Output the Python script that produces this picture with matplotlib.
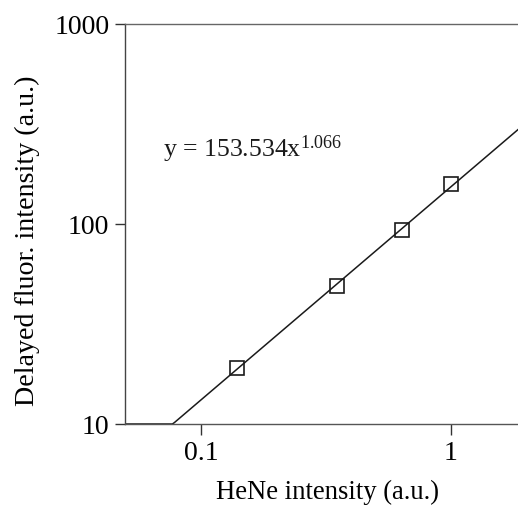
import numpy as np
import matplotlib
matplotlib.use("Agg")
import matplotlib.pyplot as plt

# Data
hene = [0.14, 0.35, 0.64, 1.0]
delayed = [19.1, 49.1, 93.3, 158.0]
fit_a = 153.534
fit_b = 1.066
x_ticks = [0.1, 1]
x_ticklabels = ["0.1", "1"]
y_ticks = [10, 100, 1000]
y_ticklabels = ["10", "100", "1000"]
x_limits = (0.0497, 1.854)
y_limits = (10, 1000)

plt.rcParams["font.family"] = ["Liberation Serif", "DejaVu Serif"]
plt.rcParams["mathtext.fontset"] = "custom"
plt.rcParams["mathtext.rm"] = "Liberation Serif"
plt.rcParams["mathtext.it"] = "Liberation Serif:italic"

fig = plt.figure(figsize=(5.18, 5.07), dpi=100)
ax = fig.add_axes([125 / 518, 83 / 507, 393 / 518, 400 / 507])
ax.set_xscale("log")
ax.set_yscale("log")
ax.set_xlim(*x_limits)
ax.set_ylim(*y_limits)

xf = np.logspace(np.log10(x_limits[0]), np.log10(x_limits[1]), 200)
yf = np.maximum(fit_a * xf ** fit_b, y_limits[0])
ax.plot(xf, yf, color="#1a1a1a", lw=1.1, zorder=2)
ax.plot(hene, delayed, linestyle="none", marker="s", ms=9.5, mfc="none",
        mec="#1a1a1a", mew=1.2, zorder=3)

ax.set_xticks(x_ticks)
ax.set_xticklabels(x_ticklabels)
ax.set_yticks(y_ticks)
ax.set_yticklabels(y_ticklabels)
ax.minorticks_off()
ax.tick_params(axis="x", direction="out", length=8, width=1.0, color="#333333",
               labelsize=20, pad=4)
ax.tick_params(axis="y", direction="out", length=7.2, width=1.0, color="#333333",
               labelsize=20, pad=4)

ax.spines["right"].set_visible(False)
ax.spines["left"].set_color("#444444")
ax.spines["bottom"].set_color("#555555")
ax.spines["top"].set_color("#666666")
for s in ["left", "bottom", "top"]:
    ax.spines[s].set_linewidth(1.0)

ax.set_xlabel("HeNe intensity (a.u.)", fontsize=19.2, va="center")
ax.xaxis.set_label_coords(0.514, -0.17)
ax.set_ylabel("Delayed fluor. intensity (a.u.)", fontsize=20.2, va="center")
ax.yaxis.set_label_coords(-0.249, 0.4575)

ax.text(0.0705, 216, r"y = 153.534x$^{1.066}$", fontsize=18.5, va="baseline",
        ha="left", color="#1a1a1a")

fig.savefig("out.png", dpi=100)
